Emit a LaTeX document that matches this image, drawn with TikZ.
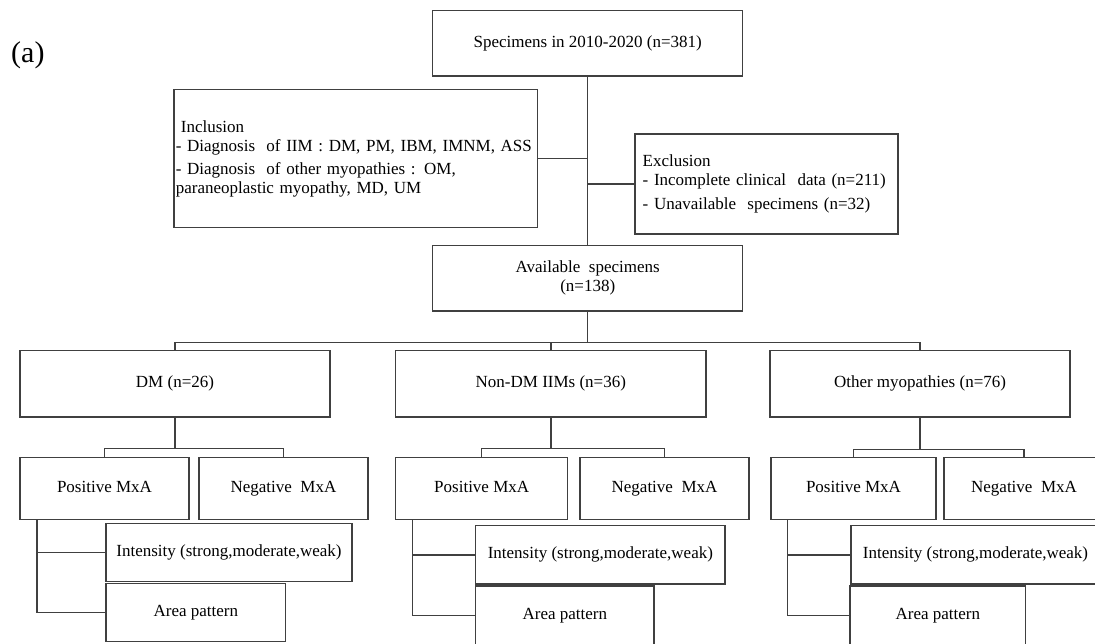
\documentclass[tikz,border=0pt]{standalone}
\usepackage{fontspec}
\setmainfont{Liberation Serif}
\usetikzlibrary{calc}
\definecolor{linecol}{RGB}{64,64,64}
\tikzset{
  box/.style={draw=linecol, line width=1.3pt, inner sep=0pt, font=\fontsize{17}{19}\selectfont, text=black},
  one/.style={box, text height=11.6pt, text depth=3.7pt},
  conn/.style={draw=linecol, line width=1.3pt}
}
\begin{document}
\begin{tikzpicture}[x=1pt,y=-1pt]
\useasboundingbox (0,0) rectangle (1095,644);
\fill[white] (0,0) rectangle (1095,644);
\clip (0,0) rectangle (1095,644);

\node[anchor=base west, inner sep=0pt, font=\fontsize{30}{34}\selectfont] (lab) at (11,62.5) {(a)};

% top part
\node[one, minimum width=310pt, minimum height=65.3pt] (t) at (587.7,43.35) {Specimens in 2010-2020 (n=381)};
\node[box, minimum width=363.7pt, minimum height=138.4pt, align=left, text width=360pt, inner xsep=1.5pt] (incl) at (355.85,158.5)
  {\hspace*{0.3em}Inclusion\\- Diagnosis\ \ of IIM : DM, PM, IBM, IMNM, ASS\\[4pt]- Diagnosis\ \ of other myopathies : OM,\\paraneoplastic myopathy, MD, UM};
\node[box, minimum width=263pt, minimum height=100pt, align=left, text width=247.6pt, inner xsep=7.7pt] (excl) at (766.5,184)
  {Exclusion\\- Incomplete clinical\ \ data (n=211)\\[5pt]- Unavailable\ \ specimens (n=32)};
\node[box, minimum width=310pt, minimum height=65.3pt, align=center] (avail) at (587.7,278.35) {Available\ \ specimens\\(n=138)};

% groups
\node[one, minimum width=310pt, minimum height=66.3pt] (dm) at (175,383.85) {DM (n=26)};
\node[one, minimum width=310.3pt, minimum height=66.3pt] (nd) at (550.85,383.85) {Non-DM IIMs (n=36)};
\node[one, minimum width=300pt, minimum height=66.3pt] (oth) at (920,383.85) {Other myopathies (n=76)};

% child boxes
\node[one, minimum width=169pt, minimum height=62pt] (dmpos) at (104.5,488.5) {Positive MxA};
\node[one, minimum width=169pt, minimum height=62pt] (dmneg) at (283.5,488.5) {Negative\ \ MxA};
\node[one, minimum width=172pt, minimum height=62pt] (ndpos) at (481.7,488.5) {Positive MxA};
\node[one, minimum width=169pt, minimum height=62pt] (ndneg) at (664.5,488.5) {Negative\ \ MxA};
\node[one, minimum width=165pt, minimum height=62pt] (opos) at (853.5,488.5) {Positive MxA};
\node[one, minimum width=160pt, minimum height=62pt] (oneg) at (1024,488.5) {Negative\ \ MxA};

\node[one, minimum width=246pt, minimum height=58pt] (dmint) at (229,552.7) {Intensity (strong,moderate,weak)};
\node[one, minimum width=249.3pt, minimum height=58.3pt] (ndint) at (600.35,554.85) {Intensity (strong,moderate,weak)};
\node[one, minimum width=249pt, minimum height=58.3pt] (oint) at (975.5,554.85) {Intensity (strong,moderate,weak)};

\node[one, minimum width=179.7pt, minimum height=58.4pt] (dmarea) at (195.85,612.5) {Area pattern};
\node[one, minimum width=178.3pt, minimum height=59.4pt] (ndarea) at (564.85,615.7) {Area pattern};
\node[one, minimum width=175.7pt, minimum height=59.4pt] (oarea) at (937.85,615.7) {Area pattern};

% connectors top
\draw[conn] (t.south) -- (avail.north);
\draw[conn] (incl.east) -- (incl.east -| t.south);
\draw[conn] (excl.west -| t.south) -- (excl.west);

% bus to groups
\draw[conn] (avail.south) -- ++(0,31) coordinate (bus);
\draw[conn] (dm.north) |- (bus) -| (oth.north);
\draw[conn] (nd.north) -- (nd.north |- bus);

% group children
\draw[conn] (dm.south) -- ++(0,31) coordinate (dmc);
\draw[conn] (dmpos.north) |- (dmc) -| (dmneg.north);
\draw[conn] (nd.south) -- ++(0,31) coordinate (ndc);
\draw[conn] (ndpos.north) |- (ndc) -| (ndneg.north);
\draw[conn] (oth.south) -- ++(0,32) coordinate (oc);
\draw[conn] (opos.north) |- (oc) -| (oneg.north);

% brackets
\coordinate (dmb) at ($(dmpos.south west)+(17.7,0)$);
\draw[conn] (dmb) |- (dmarea.west);
\draw[conn] (dmint.west -| dmb) -- (dmint.west);
\coordinate (ndb) at ($(ndpos.south west)+(17.6,0)$);
\draw[conn] (ndb) |- (ndarea.west);
\draw[conn] (ndint.west -| ndb) -- (ndint.west);
\coordinate (ob) at ($(opos.south west)+(17.3,0)$);
\draw[conn] (ob) |- (oarea.west);
\draw[conn] (oint.west -| ob) -- (oint.west);
\end{tikzpicture}
\end{document}
